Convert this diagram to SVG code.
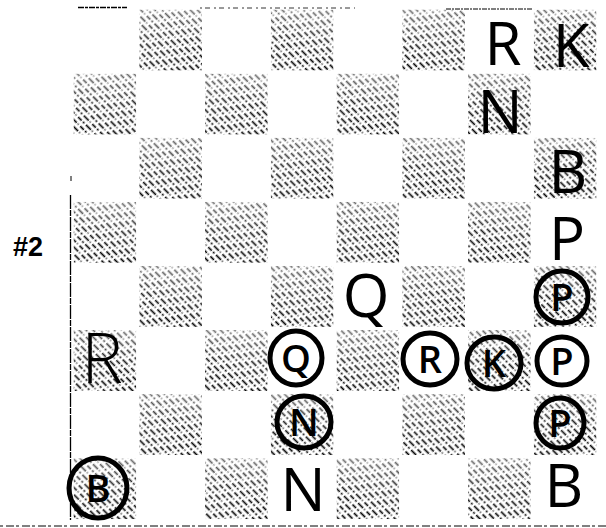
<svg xmlns="http://www.w3.org/2000/svg" width="606" height="528" viewBox="0 0 606 528">
<defs>
<pattern id="hatch" width="15" height="23" patternUnits="userSpaceOnUse" patternTransform="rotate(-45)">
<line x1="2.5" y1="0" x2="2.5" y2="23" stroke="#000" stroke-width="1.7" stroke-dasharray="5 1.8 2 2.2 7 1.5 1 2.5"/>
<line x1="7.5" y1="0" x2="7.5" y2="23" stroke="#000" stroke-width="1.7" stroke-dasharray="5 1.8 2 2.2 7 1.5 1 2.5" stroke-dashoffset="8"/>
<line x1="12.5" y1="0" x2="12.5" y2="23" stroke="#000" stroke-width="1.7" stroke-dasharray="5 1.8 2 2.2 7 1.5 1 2.5" stroke-dashoffset="15"/>
</pattern>
<linearGradient id="fadeg" x1="0" y1="0" x2="0" y2="1">
<stop offset="0" stop-color="#8c8c8c"/>
<stop offset="0.5" stop-color="#e0e0e0"/>
<stop offset="1" stop-color="#ffffff"/>
</linearGradient>
<mask id="fade" maskContentUnits="objectBoundingBox">
<rect width="1" height="1" fill="url(#fadeg)"/>
</mask>
</defs>
<style>
.dk{fill:url(#hatch);mask:url(#fade)}
.pc{font-family:"Open Sans","Liberation Sans","DejaVu Sans",sans-serif;font-weight:400;font-size:60px;fill:#000;text-anchor:middle}
.cl{font-family:"Open Sans","Liberation Sans","DejaVu Sans",sans-serif;font-weight:600;font-size:38px;fill:#000;text-anchor:middle}
.ring{fill:none;stroke:#000;stroke-width:5}
.edge{stroke:#000;fill:none}
</style>
<rect width="606" height="528" fill="#fff"/>
<g id="board">
<rect class="dk" x="139.25" y="9.5" width="62.75" height="61"/>
<rect class="dk" x="270.75" y="9.5" width="62.75" height="61"/>
<rect class="dk" x="402.25" y="9.5" width="62.75" height="61"/>
<rect class="dk" x="533.75" y="9.5" width="62.75" height="61"/>
<rect class="dk" x="73.5" y="73.6" width="62.75" height="61"/>
<rect class="dk" x="205" y="73.6" width="62.75" height="61"/>
<rect class="dk" x="336.5" y="73.6" width="62.75" height="61"/>
<rect class="dk" x="468" y="73.6" width="62.75" height="61"/>
<rect class="dk" x="139.25" y="137.7" width="62.75" height="61"/>
<rect class="dk" x="270.75" y="137.7" width="62.75" height="61"/>
<rect class="dk" x="402.25" y="137.7" width="62.75" height="61"/>
<rect class="dk" x="533.75" y="137.7" width="62.75" height="61"/>
<rect class="dk" x="73.5" y="201.8" width="62.75" height="61"/>
<rect class="dk" x="205" y="201.8" width="62.75" height="61"/>
<rect class="dk" x="336.5" y="201.8" width="62.75" height="61"/>
<rect class="dk" x="468" y="201.8" width="62.75" height="61"/>
<rect class="dk" x="139.25" y="265.9" width="62.75" height="61"/>
<rect class="dk" x="270.75" y="265.9" width="62.75" height="61"/>
<rect class="dk" x="402.25" y="265.9" width="62.75" height="61"/>
<rect class="dk" x="533.75" y="265.9" width="62.75" height="61"/>
<rect class="dk" x="73.5" y="330" width="62.75" height="61"/>
<rect class="dk" x="205" y="330" width="62.75" height="61"/>
<rect class="dk" x="336.5" y="330" width="62.75" height="61"/>
<rect class="dk" x="468" y="330" width="62.75" height="61"/>
<rect class="dk" x="139.25" y="394.1" width="62.75" height="61"/>
<rect class="dk" x="270.75" y="394.1" width="62.75" height="61"/>
<rect class="dk" x="402.25" y="394.1" width="62.75" height="61"/>
<rect class="dk" x="533.75" y="394.1" width="62.75" height="61"/>
<rect class="dk" x="73.5" y="458.2" width="62.75" height="61"/>
<rect class="dk" x="205" y="458.2" width="62.75" height="61"/>
<rect class="dk" x="336.5" y="458.2" width="62.75" height="61"/>
<rect class="dk" x="468" y="458.2" width="62.75" height="61"/>
</g>
<g id="edges">
<line class="edge" x1="78" y1="7.5" x2="127" y2="7.5" stroke-width="1.3" stroke-dasharray="6 1 3 1"/>
<line class="edge" x1="200" y1="8" x2="355" y2="8" stroke-width="0.8" stroke-dasharray="2 3 5 4"/>
<line class="edge" x1="446" y1="9" x2="533" y2="9" stroke-width="1" stroke-dasharray="5 1 2 1"/>
<line class="edge" x1="71" y1="176" x2="71" y2="181" stroke-width="1"/>
<line class="edge" x1="70.5" y1="195" x2="70.5" y2="520" stroke-width="1.3" stroke-dasharray="14 1 6 1"/>
<line class="edge" x1="0" y1="526" x2="606" y2="526" stroke="#999" stroke-width="1" stroke-dasharray="3 3 8 2"/>
</g>
<text id="label" x="13" y="256" font-family="'Liberation Sans','DejaVu Sans',sans-serif" font-size="27" font-weight="bold" fill="#000">#2</text>
<g id="pieces">
<g id="p-R1"><text class="pc" x="503" y="65">R</text></g>
<g id="p-K1"><text class="pc" x="571" y="67">K</text></g>
<g id="p-N2"><text class="pc" x="500" y="133">N</text></g>
<g id="p-B3"><text class="pc" x="568" y="193">B</text></g>
<g id="p-P4"><text class="pc" x="567" y="260">P</text></g>
<g id="p-Q5"><text class="pc" x="366" y="317">Q</text></g>
<g id="p-P5"><ellipse class="ring" cx="562" cy="297" rx="26" ry="26"/><text class="cl" x="562" y="311">P</text></g>
<g id="p-R6a"><text class="pc" x="102" y="383" style="font-size:70px;font-weight:300">R</text></g>
<g id="p-Q6"><ellipse class="ring" cx="296" cy="358" rx="26" ry="27"/><text class="cl" x="296" y="372">Q</text></g>
<g id="p-R6"><ellipse class="ring" cx="430" cy="359" rx="27" ry="26"/><text class="cl" x="430" y="373">R</text></g>
<g id="p-K6"><ellipse class="ring" cx="494" cy="363" rx="27" ry="26"/><text class="cl" x="494" y="377">K</text></g>
<g id="p-P6"><ellipse class="ring" cx="562" cy="361" rx="25" ry="24"/><text class="cl" x="562" y="375">P</text></g>
<g id="p-N7"><ellipse class="ring" cx="304" cy="422" rx="27" ry="26"/><text class="cl" x="304" y="436">N</text></g>
<g id="p-P7"><ellipse class="ring" cx="560" cy="423" rx="24" ry="25"/><text class="cl" x="560" y="437">P</text></g>
<g id="p-B8"><ellipse class="ring" cx="98" cy="488" rx="29" ry="30"/><text class="cl" x="98" y="502">B</text></g>
<g id="p-N8"><text class="pc" x="303" y="511">N</text></g>
<g id="p-B8b"><text class="pc" x="564" y="507">B</text></g>
</g>
</svg>
